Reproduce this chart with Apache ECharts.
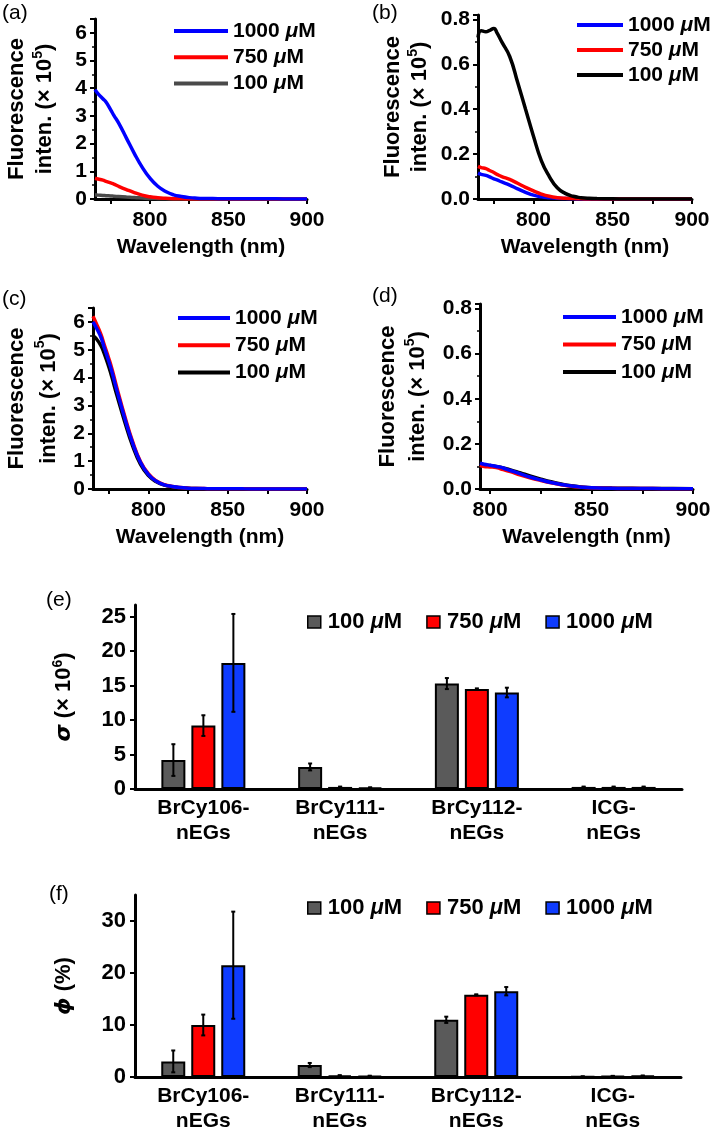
<!DOCTYPE html>
<html>
<head>
<meta charset="utf-8">
<title>Fluorescence spectra and brightness</title>
<script src="https://cdn.jsdelivr.net/npm/echarts@6/dist/echarts.min.js"></script>
<style>html,body{margin:0;padding:0;background:#fff;}</style>
</head>
<body>
<div id="chart" style="width:714px;height:1134px;"></div>
<script>
// wavelength grids (nm)
const wlFull = [765,767,770,772,775,777,780,785,790,795,800,805,810,815,820,825,830,835,840,850,860,870,880,890,900];
const wlD = [795,797,800,803,805,808,810,815,820,825,830,835,840,845,850,860,870,880,890,900];

// (a) intensities (x 10^5)
const a1000 = [3.95,3.8,3.62,3.5,3.22,3.02,2.75,2.2,1.65,1.15,0.75,0.46,0.27,0.15,0.09,0.05,0.03,0.02,0.015,0.01,0.01,0.005,0.005,0.003,0.003];
const a750 = [0.75,0.72,0.68,0.64,0.58,0.54,0.46,0.34,0.23,0.14,0.08,0.045,0.025,0.012,0.006,0.003,0.002,0.001,0.001,0,0,0,0,0,0];
const a100 = [0.15,0.14,0.13,0.12,0.11,0.1,0.09,0.07,0.05,0.035,0.02,0.012,0.006,0.003,0.001,0,0,0,0,0,0,0,0,0,0];
// (b)
const b1000 = [0.115,0.11,0.105,0.1,0.09,0.085,0.076,0.062,0.045,0.03,0.017,0.01,0.006,0.003,0.002,0.001,0,0,0,0,0,0,0,0,0];
const b750 = [0.145,0.14,0.135,0.128,0.118,0.11,0.1,0.087,0.07,0.052,0.036,0.022,0.012,0.006,0.003,0.002,0.001,0,0,0,0,0,0,0,0];
const b100 = [0.72,0.75,0.745,0.75,0.76,0.74,0.7,0.635,0.52,0.4,0.28,0.17,0.1,0.05,0.025,0.012,0.006,0.003,0.002,0.001,0,0,0,0,0];
// (c)
const c1000 = [6.0,5.8,5.45,5.1,4.58,4.2,3.55,2.55,1.65,0.95,0.52,0.28,0.15,0.09,0.05,0.03,0.02,0.015,0.01,0.008,0.005,0.004,0.003,0.002,0.002];
const c750 = [6.2,5.95,5.55,5.2,4.68,4.3,3.65,2.62,1.7,0.98,0.54,0.29,0.16,0.09,0.05,0.03,0.02,0.015,0.01,0.008,0.005,0.004,0.003,0.002,0.002];
const c100 = [5.5,5.4,5.15,4.88,4.38,4.0,3.38,2.42,1.55,0.88,0.48,0.26,0.14,0.08,0.045,0.028,0.018,0.012,0.009,0.006,0.004,0.003,0.002,0.002,0.001];
// (d)
const d1000 = [0.115,0.11,0.105,0.1,0.097,0.088,0.082,0.067,0.052,0.04,0.029,0.02,0.013,0.008,0.005,0.003,0.002,0.002,0.001,0.001];
const d750 = [0.105,0.1,0.098,0.095,0.09,0.082,0.077,0.062,0.049,0.038,0.028,0.019,0.012,0.008,0.005,0.003,0.002,0.002,0.001,0.001];
const d100 = [0.11,0.108,0.104,0.1,0.097,0.09,0.085,0.071,0.057,0.044,0.032,0.022,0.014,0.009,0.006,0.004,0.003,0.002,0.002,0.001];

// (e) sigma (x 10^6) and (f) phi (%)
const groups = ['BrCy106-\nnEGs', 'BrCy111-\nnEGs', 'BrCy112-\nnEGs', 'ICG-\nnEGs'];
const sigma100 = [4.2, 3.2, 15.3, 0.3];
const sigma100Err = [2.3, 0.5, 0.8, 0.05];
const sigma750 = [9.2, 0.3, 14.5, 0.3];
const sigma750Err = [1.5, 0.05, 0.1, 0.05];
const sigma1000 = [18.3, 0.2, 14.0, 0.3];
const sigma1000Err = [7.1, 0.05, 0.7, 0.05];
const phi100 = [3.0, 2.3, 11.0, 0.1];
const phi100Err = [2.1, 0.4, 0.6, 0.02];
const phi750 = [10.0, 0.3, 15.8, 0.2];
const phi750Err = [2.0, 0.05, 0.1, 0.02];
const phi1000 = [21.5, 0.2, 16.5, 0.25];
const phi1000Err = [10.3, 0.05, 0.8, 0.03];

const F = '"Liberation Sans", Arial, sans-serif';
const G = '"DejaVu Sans", sans-serif';   // greek phi
const BLUE = '#0000ff', RED = '#ff0000', BLACK = '#000000', GRAY = '#4a4a4a';
const BAR_GRAY = '#5a5a5a', BAR_RED = '#ff0000', BAR_BLUE = '#0f3cff';

var chart = echarts.init(document.getElementById('chart'));

function lineS(name, color, wl, vals, gi, z) {
  return {
    type: 'line', name: name, xAxisIndex: gi, yAxisIndex: gi,
    data: wl.map((w, i) => [w, vals[i]]),
    symbol: 'none', smooth: 0.5, z: z,
    lineStyle: { color: color, width: 3.5 }, itemStyle: { color: color },
    emphasis: { disabled: true }
  };
}

function waveAxis(gi, min, labels, ticks) {
  return {
    gridIndex: gi, type: 'value', min: min, max: 900,
    axisLine: { onZero: false, lineStyle: { color: '#000', width: 3 } },
    axisTick: { customValues: ticks, length: 5, lineStyle: { color: '#000', width: 2 } },
    axisLabel: { customValues: labels, margin: 11, color: '#000', fontFamily: F, fontWeight: 'bold', fontSize: 21 },
    splitLine: { show: false },
    name: 'Wavelength (nm)', nameLocation: 'middle', nameGap: 38,
    nameTextStyle: { color: '#000', fontFamily: F, fontWeight: 'bold', fontSize: 21 }
  };
}

function fluoAxis(gi, max, interval, digits, gap, lh) {
  return {
    gridIndex: gi, type: 'value', min: 0, max: max, interval: interval,
    axisLine: { show: true, onZero: false, lineStyle: { color: '#000', width: 3 } },
    axisTick: { show: true, length: 5, lineStyle: { color: '#000', width: 2 } },
    minorTick: { show: true, splitNumber: 2, length: 3, lineStyle: { color: '#000', width: 1.5 } },
    axisLabel: { showMaxLabel: false, margin: 8, color: '#000', fontFamily: F, fontWeight: 'bold', fontSize: 21,
      formatter: v => v.toFixed(digits) },
    splitLine: { show: false },
    name: 'Fluorescence\ninten. (× 10{s|5})', nameLocation: 'middle', nameGap: gap, nameRotate: 90,
    nameTextStyle: { color: '#000', fontFamily: F, fontWeight: 'bold', fontSize: 22, lineHeight: lh,
      rich: { s: { fontFamily: F, fontWeight: 'bold', fontSize: 14, verticalAlign: 'top', lineHeight: lh } } }
  };
}

function lineLegend(p, left, top, gap, w) {
  return {
    orient: 'vertical', left: left, top: top, padding: 0, itemWidth: w, itemHeight: 4, itemGap: gap,
    icon: 'rect', selectedMode: false,
    data: [p + '|1000 μM', p + '|750 μM', p + '|100 μM'],
    formatter: n => n.split('|')[1].replace('μ', '{i|μ}'),
    textStyle: { color: '#000', fontFamily: F, fontWeight: 'bold', fontSize: 21, lineHeight: 22,
      rich: { i: { fontFamily: F, fontWeight: 'bold', fontStyle: 'italic', fontSize: 21, lineHeight: 22 } } }
  };
}

function barLegend(p, top) {
  return {
    orient: 'horizontal', left: 307, top: top, padding: 0, itemWidth: 13, itemHeight: 12, itemGap: 24,
    icon: 'rect', selectedMode: false,
    itemStyle: { borderColor: '#000', borderWidth: 1.5 },
    data: [p + '|100 μM', p + '|750 μM', p + '|1000 μM'],
    formatter: n => n.split('|')[1].replace('μ', '{i|μ}'),
    textStyle: { color: '#000', fontFamily: F, fontWeight: 'bold', fontSize: 22, lineHeight: 24, padding: [0, 0, 0, 2],
      rich: { i: { fontFamily: F, fontWeight: 'bold', fontStyle: 'italic', fontSize: 22, lineHeight: 24 } } }
  };
}

function catAxis(gi) {
  return {
    gridIndex: gi, type: 'category', data: groups,
    axisLine: { lineStyle: { color: '#000', width: 3 } },
    axisTick: { show: false },
    axisLabel: { margin: 7, color: '#000', fontFamily: F, fontWeight: 'bold', fontSize: 21, lineHeight: 25, interval: 0 }
  };
}

function barValAxis(gi, max, ticks, name) {
  return {
    gridIndex: gi, type: 'value', min: 0, max: max,
    axisLine: { show: true, lineStyle: { color: '#000', width: 3 } },
    axisTick: { show: true, customValues: ticks, length: 5, lineStyle: { color: '#000', width: 2 } },
    axisLabel: { customValues: ticks, margin: 9, color: '#000', fontFamily: F, fontWeight: 'bold', fontSize: 22 },
    splitLine: { show: false },
    name: name, nameLocation: 'middle', nameGap: 58, nameRotate: 90,
    nameTextStyle: { color: '#000', fontFamily: F, fontWeight: 'bold', fontSize: 22, lineHeight: 26,
      rich: {
        g: { fontFamily: G, fontWeight: 'bold', fontStyle: 'italic', fontSize: 22, lineHeight: 26 },
        s: { fontFamily: F, fontWeight: 'bold', fontSize: 14, verticalAlign: 'top', lineHeight: 26 }
      } }
  };
}

// bar offsets inside a group: 24px bars with 6px gaps
const barOffsets = [-30, 0, 30];

function barS(name, color, vals, gi) {
  return {
    type: 'bar', name: name, xAxisIndex: gi, yAxisIndex: gi, data: vals,
    barWidth: 24, barGap: '25%',
    itemStyle: { color: color, borderColor: '#000', borderWidth: 2 },
    emphasis: { disabled: true }
  };
}

function errS(vals, errs, gi, k) {
  return {
    type: 'custom', xAxisIndex: gi, yAxisIndex: gi, z: 10, silent: true,
    data: vals.map((v, i) => [i, v, errs[i]]),
    encode: { x: 0, y: 1 },
    renderItem: function (params, api) {
      const i = api.value(0), v = api.value(1), e = api.value(2);
      const x = api.coord([i, v])[0] + barOffsets[k];
      const y1 = api.coord([i, v + e])[1];
      const y2 = api.coord([i, Math.max(v - e, 0)])[1];
      const st = { stroke: '#000', lineWidth: 2 };
      return { type: 'group', children: [
        { type: 'line', shape: { x1: x, y1: y1, x2: x, y2: y2 }, style: st },
        { type: 'line', shape: { x1: x - 2, y1: y1, x2: x + 2, y2: y1 }, style: st },
        { type: 'line', shape: { x1: x - 2, y1: y2, x2: x + 2, y2: y2 }, style: st }
      ] };
    }
  };
}

function panelLabel(t, left, top) {
  return { type: 'text', left: left, top: top, style: { text: t, font: '21px "Liberation Sans", Arial, sans-serif', fill: '#000' } };
}

var option = {
  animation: false,
  backgroundColor: '#fff',
  grid: [
    { left: 95, top: 19, width: 212, height: 180 },
    { left: 478, top: 15, width: 214, height: 184 },
    { left: 92, top: 308, width: 215, height: 181 },
    { left: 480, top: 304, width: 213, height: 185 },
    { left: 135, top: 605, width: 547, height: 184 },
    { left: 135, top: 895, width: 546, height: 184 }
  ],
  xAxis: [
    waveAxis(0, 765, [800, 850, 900], [775, 800, 825, 850, 875, 900]),
    waveAxis(1, 765, [800, 850, 900], [775, 800, 825, 850, 875, 900]),
    waveAxis(2, 765, [800, 850, 900], [775, 800, 825, 850, 875, 900]),
    waveAxis(3, 795, [800, 850, 900], [800, 825, 850, 875, 900]),
    catAxis(4),
    catAxis(5)
  ],
  yAxis: [
    fluoAxis(0, 6.5, 1, 0, 36, 28),
    fluoAxis(1, 0.82, 0.2, 1, 45, 27),
    fluoAxis(2, 6.5, 1, 0, 28, 32),
    fluoAxis(3, 0.82, 0.2, 1, 47, 30),
    barValAxis(4, 26.7, [0, 5, 10, 15, 20, 25], '{g|σ} (× 10{s|6})'),
    barValAxis(5, 35, [0, 10, 20, 30], '{g|ϕ} (%)')
  ],
  legend: [
    lineLegend('a', 174, 20, 4.3, 54),
    lineLegend('b', 577, 14, 3, 46),
    lineLegend('c', 178, 307, 5.2, 52),
    lineLegend('d', 563, 306, 5.5, 53),
    barLegend('e', 610),
    barLegend('f', 896)
  ],
  graphic: [
    panelLabel('(a)', 2, 3),
    panelLabel('(b)', 372, 3),
    panelLabel('(c)', 2, 289),
    panelLabel('(d)', 372, 286),
    panelLabel('(e)', 46, 590),
    panelLabel('(f)', 49, 884)
  ],
  series: [
    lineS('a|100 μM', GRAY, wlFull, a100, 0, 2),
    lineS('a|750 μM', RED, wlFull, a750, 0, 3),
    lineS('a|1000 μM', BLUE, wlFull, a1000, 0, 4),
    lineS('b|1000 μM', BLUE, wlFull, b1000, 1, 2),
    lineS('b|750 μM', RED, wlFull, b750, 1, 3),
    lineS('b|100 μM', BLACK, wlFull, b100, 1, 4),
    lineS('c|100 μM', BLACK, wlFull, c100, 2, 2),
    lineS('c|750 μM', RED, wlFull, c750, 2, 3),
    lineS('c|1000 μM', BLUE, wlFull, c1000, 2, 4),
    lineS('d|100 μM', BLACK, wlD, d100, 3, 2),
    lineS('d|750 μM', RED, wlD, d750, 3, 3),
    lineS('d|1000 μM', BLUE, wlD, d1000, 3, 4),
    barS('e|100 μM', BAR_GRAY, sigma100, 4),
    barS('e|750 μM', BAR_RED, sigma750, 4),
    barS('e|1000 μM', BAR_BLUE, sigma1000, 4),
    errS(sigma100, sigma100Err, 4, 0),
    errS(sigma750, sigma750Err, 4, 1),
    errS(sigma1000, sigma1000Err, 4, 2),
    barS('f|100 μM', BAR_GRAY, phi100, 5),
    barS('f|750 μM', BAR_RED, phi750, 5),
    barS('f|1000 μM', BAR_BLUE, phi1000, 5),
    errS(phi100, phi100Err, 5, 0),
    errS(phi750, phi750Err, 5, 1),
    errS(phi1000, phi1000Err, 5, 2)
  ]
};
chart.setOption(option);
</script>
</body>
</html>
